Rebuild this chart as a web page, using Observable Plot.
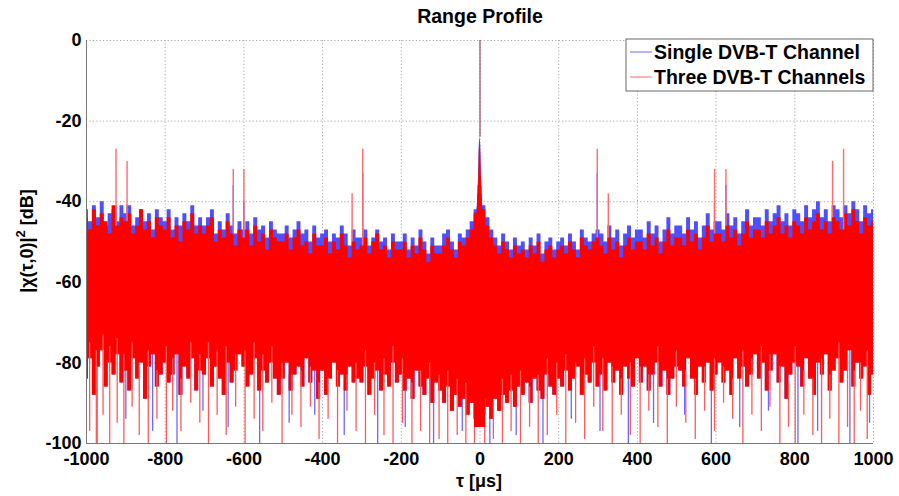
<!DOCTYPE html>
<html><head><meta charset="utf-8">
<script src="https://cdn.jsdelivr.net/npm/d3@7"></script>
<script src="https://cdn.jsdelivr.net/npm/@observablehq/plot@0.6"></script>
<style>
body{margin:0;background:#fff;}
svg text{font-family:"Liberation Sans",Arial,Helvetica,sans-serif;}
</style>
</head><body><div id="chart"></div>
<script>
// ---- data ----
const titleText = "Range Profile";
const seriesNames = ["Single DVB-T Channel", "Three DVB-T Channels"];
const xTicks = [-1000,-800,-600,-400,-200,0,200,400,600,800,1000];
const yTicks = [-100,-80,-60,-40,-20,0];
const tauStart = -1000, tauStep = 10;

// upper tips of the red (three channels) trace, every 10 us from -1000 to 1000
const redHi = [
 -44,-47,-42,-46,-43,-45,-48,-41,-46,-44,
 -45,-43,-48,-46,-42,-47,-45,-49,-44,-46,
 -47,-44,-49,-46,-50,-45,-47,-43,-48,-46,
 -48,-46,-44,-50,-47,-49,-45,-48,-51,-47,
 -49,-47,-51,-46,-50,-48,-52,-47,-49,-50,
 -50,-48,-52,-49,-47,-51,-50,-53,-48,-51,
 -51,-49,-53,-50,-52,-48,-51,-54,-50,-52,
 -51,-49,-53,-50,-48,-52,-51,-54,-50,-52,
 -52,-50,-54,-51,-53,-49,-52,-55,-51,-53,
 -53,-51,-49,-52,-54,-50,-51,-49,-47,-43,
 -38,
 -42,-46,-49,-51,-53,-50,-52,-54,-51,-53,
 -52,-54,-51,-53,-50,-55,-52,-51,-54,-52,
 -51,-53,-50,-52,-54,-49,-51,-52,-50,-49,
 -51,-53,-49,-52,-50,-54,-51,-49,-52,-50,
 -50,-52,-48,-51,-49,-53,-50,-47,-51,-49,
 -49,-51,-47,-50,-48,-52,-49,-46,-50,-48,
 -48,-50,-46,-49,-47,-51,-48,-45,-49,-47,
 -47,-49,-45,-48,-46,-44,-48,-46,-49,-45,
 -46,-48,-44,-47,-45,-43,-47,-45,-48,-44,
 -45,-47,-43,-46,-42,-45,-48,-44,-46,-45
];
// lower edge of the dense red trace
const redLo = [
 -84,-79,-88,-81,-77,-86,-80,-83,-78,-85,
 -82,-87,-79,-84,-80,-89,-81,-78,-86,-83,
 -80,-85,-83,-78,-88,-81,-84,-79,-87,-82,
 -83,-79,-86,-81,-84,-88,-80,-85,-82,-78,
 -81,-86,-83,-79,-87,-82,-85,-80,-84,-88,
 -84,-80,-87,-83,-81,-86,-79,-85,-82,-89,
 -82,-88,-84,-80,-86,-83,-87,-81,-85,-84,
 -85,-81,-88,-84,-82,-87,-83,-86,-80,-85,
 -83,-87,-84,-89,-82,-86,-88,-84,-90,-85,
 -87,-90,-86,-92,-88,-91,-89,-93,-90,-94,
 -96,
 -93,-91,-94,-89,-92,-88,-90,-87,-91,-86,
 -88,-85,-90,-84,-87,-89,-83,-86,-88,-84,
 -86,-82,-87,-84,-81,-88,-83,-85,-80,-86,
 -83,-87,-80,-85,-82,-88,-81,-84,-86,-79,
 -85,-81,-87,-83,-80,-86,-82,-88,-84,-81,
 -82,-86,-79,-84,-88,-81,-85,-80,-87,-83,
 -80,-85,-82,-88,-79,-84,-81,-86,-83,-78,
 -84,-80,-87,-82,-78,-85,-81,-89,-83,-80,
 -81,-86,-79,-84,-88,-80,-83,-78,-87,-82,
 -79,-85,-82,-77,-86,-80,-84,-81,-88,-83
];
// upper tips of the blue (single channel) trace
const blueHi = [
 -42,-45,-41,-44,-40,-46,-43,-42,-45,-41,
 -43,-41,-46,-44,-42,-45,-43,-47,-42,-44,
 -45,-42,-47,-44,-46,-43,-45,-41,-46,-44,
 -46,-44,-42,-48,-45,-47,-43,-46,-48,-45,
 -47,-45,-48,-44,-47,-46,-49,-45,-47,-48,
 -48,-46,-49,-47,-45,-48,-47,-50,-46,-49,
 -48,-47,-50,-48,-49,-46,-48,-51,-47,-49,
 -49,-47,-51,-49,-47,-50,-49,-52,-48,-50,
 -50,-48,-52,-49,-51,-47,-50,-53,-49,-51,
 -51,-48,-47,-50,-52,-48,-49,-47,-45,-42,
 -36,
 -41,-44,-47,-49,-51,-48,-50,-52,-49,-51,
 -50,-52,-49,-51,-48,-53,-50,-49,-52,-50,
 -49,-51,-48,-50,-52,-47,-49,-50,-48,-47,
 -48,-50,-46,-49,-47,-51,-48,-46,-49,-47,
 -47,-49,-45,-48,-46,-50,-47,-44,-48,-46,
 -46,-48,-44,-47,-45,-49,-46,-43,-47,-45,
 -45,-47,-43,-46,-44,-48,-45,-42,-46,-44,
 -44,-46,-42,-45,-43,-41,-45,-43,-46,-42,
 -43,-45,-41,-44,-42,-40,-44,-42,-45,-41,
 -42,-44,-41,-43,-40,-42,-45,-41,-43,-42
];
// deep downward dips [tau, dB]
const redDips = [
 [-992,-97],[-975,-100],[-958,-93],[-941,-100],[-922,-95],[-905,-100],[-884,-91],[-866,-98],[-843,-100],[-821,-94],
 [-797,-100],[-781,-92],[-760,-97],[-735,-90],[-712,-95],[-690,-100],[-668,-93],[-645,-98],[-621,-91],[-597,-100],
 [-574,-94],[-552,-97],[-529,-90],[-503,-100],[-478,-93],[-455,-96],[-431,-91],[-409,-99],[-386,-94],[-362,-100],
 [-338,-92],[-315,-97],[-291,-100],[-268,-93],[-244,-98],[-221,-100],[-197,-95],[-173,-100],[-151,-97],[-128,-100],
 [-104,-99],[-82,-100],[-58,-98],[-36,-100],[-14,-100],[12,-100],[34,-99],[57,-100],[79,-97],[103,-100],
 [126,-96],[148,-100],[171,-98],[195,-93],[218,-100],[243,-95],[266,-99],[289,-91],[312,-97],[336,-100],
 [359,-93],[382,-98],[407,-100],[429,-92],[452,-96],[476,-100],[499,-91],[523,-95],[547,-99],[571,-92],
 [596,-97],[619,-90],[642,-94],[668,-100],[691,-93],[715,-97],[737,-91],[762,-100],[784,-96],[801,-100],
 [823,-93],[846,-98],[868,-100],[889,-94],[912,-100],[934,-96],[951,-100],[967,-92],[984,-99]
];
const blueDips = [
 [-973,-100],[-900,-94],[-832,-97],[-770,-100],[-704,-92],[-640,-96],[-560,-100],[-485,-95],[-420,-93],[-345,-98],
 [-260,-100],[-190,-96],[-118,-100],[-45,-97],[25,-100],[92,-98],[160,-100],[232,-94],[305,-97],[377,-100],
 [441,-95],[520,-93],[588,-100],[660,-96],[733,-92],[808,-100],[858,-97],[940,-100],[990,-95]
];
// isolated upward spikes [tau, dB]
const redSpikes = [[-925,-27],[-897,-30],[-627,-32],[-600,-32],[-325,-38],[-298,-27],[298,-27],[326,-38],[596,-32],[625,-32],[896,-30],[924,-27]];
const blueSpikes = [[-925,-41],[-897,-41],[-627,-36],[-600,-40],[-298,-33],[298,-33],[596,-40],[625,-36],[896,-41],[924,-41]];
// central lobe
const peakTau  = [-14,-10,-7,-5,-3,-2,0,2,3,5,7,10,14];
const peakRed  = [-50,-46,-42,-39,-33,-28,-24,-28,-33,-39,-42,-46,-50];
const peakBlue = [-49,-45,-41,-38,-31,-26,-24,-26,-31,-38,-41,-45,-49];
const zeroLagDb = 0;

// ---- build tables ----
const tau = redHi.map((_, i) => tauStart + i * tauStep);
const rows = tau.map((t, i) => ({tau: t, redHi: redHi[i], redLo: redLo[i], blueHi: blueHi[i]}));
const loAt = t => redLo[Math.max(0, Math.min(redLo.length - 1, Math.round((t - tauStart) / tauStep)))];
const hiAt = t => redHi[Math.max(0, Math.min(redHi.length - 1, Math.round((t - tauStart) / tauStep)))];
const peak = peakTau.map((t, i) => ({tau: t, red: peakRed[i], blue: peakBlue[i], base: loAt(0)}));

const RED = "#ff0000", BLUE = "#4f4fff";
const gridStyle = {stroke: "#a8a8a8", strokeOpacity: 1, strokeDasharray: "1.2,2.2", strokeWidth: 1};

const chart = Plot.plot({
  width: 899, height: 496,
  marginLeft: 86, marginRight: 26, marginTop: 40, marginBottom: 53,
  style: {background: "#fff", color: "#000", fontSize: "18px", fontWeight: "bold", fontFamily: "Liberation Sans, Arial, sans-serif"},
  x: {domain: [-1000, 1000]},
  y: {domain: [-100, 0]},
  marks: [
    Plot.ruleX(xTicks, {...gridStyle}),
    Plot.ruleY(yTicks, {...gridStyle}),
    Plot.areaY(rows, {x: "tau", y1: "redLo", y2: "blueHi", curve: "step", fill: BLUE}),
    Plot.ruleX(blueDips, {x: d => d[0], y1: d => loAt(d[0]) + 4, y2: d => d[1], stroke: "#6a6aff", strokeWidth: 1.3, clip: true}),
    Plot.ruleX(blueSpikes, {x: d => d[0], y1: d => hiAt(d[0]), y2: d => d[1], stroke: BLUE, strokeWidth: 1.3}),
    Plot.areaY(peak, {x: "tau", y1: "base", y2: "blue", fill: BLUE}),
    Plot.areaY(rows, {x: "tau", y1: "redLo", y2: "redHi", curve: "step", fill: RED}),
    Plot.ruleX(redDips, {x: d => d[0], y1: d => loAt(d[0]) + 4, y2: d => d[1], stroke: "#ff5a5a", strokeWidth: 1.3, clip: true}),
    Plot.ruleX(redSpikes, {x: d => d[0], y1: d => hiAt(d[0]), y2: d => d[1], stroke: "#ff6a6a", strokeWidth: 1.4}),
    Plot.areaY(peak, {x: "tau", y1: "base", y2: "red", fill: RED}),
    Plot.ruleX([0], {y1: peakRed[peakTau.indexOf(0)], y2: zeroLagDb, stroke: "#8a2a55", strokeWidth: 1}),
    Plot.ruleX([-1000], {stroke: "#777", strokeWidth: 1}),
    Plot.ruleY([-100], {stroke: "#777", strokeWidth: 1}),
    Plot.axisX({ticks: xTicks, tickSize: 0, tickPadding: 9, tickFormat: d => String(d), label: null, fontSize: 18, fontWeight: "bold"}),
    Plot.axisY({ticks: yTicks, tickSize: 0, tickPadding: 5, tickFormat: d => String(d), label: null, fontSize: 18, fontWeight: "bold"})
  ]
});
document.getElementById("chart").appendChild(chart);

// ---- title, axis labels, legend ----
const svg = d3.select(chart);
const font = "Liberation Sans, Arial, sans-serif";
svg.append("text").attr("x", 480).attr("y", 23).attr("text-anchor", "middle")
  .attr("font-family", font).attr("font-size", 19.5).attr("font-weight", "bold").attr("fill", "#000").text(titleText);
svg.append("text").attr("x", 479).attr("y", 487).attr("text-anchor", "middle")
  .attr("font-family", font).attr("font-size", 18).attr("font-weight", "bold").attr("fill", "#000").text("τ [μs]");
const yl = svg.append("text").attr("transform", "translate(33,241) rotate(-90)").attr("text-anchor", "middle")
  .attr("font-family", font).attr("font-size", 18).attr("font-weight", "bold").attr("fill", "#000");
yl.append("tspan").text("|χ(τ,0)|");
yl.append("tspan").attr("font-size", 13).attr("dy", -8).text("2");
yl.append("tspan").attr("dy", 8).text(" [dB]");

const lg = svg.append("g").attr("transform", "translate(626,39)");
lg.append("rect").attr("width", 247).attr("height", 52).attr("fill", "#fff").attr("stroke", "#444").attr("stroke-width", 0.8);
const legendColors = ["#8080ff", "#ff8080"];
seriesNames.forEach((name, i) => {
  const y = 13 + i * 25;
  lg.append("line").attr("x1", 4).attr("x2", 26).attr("y1", y).attr("y2", y).attr("stroke", legendColors[i]).attr("stroke-width", 1.2);
  lg.append("text").attr("x", 28).attr("y", y + 6.5).attr("text-anchor", "start").attr("font-family", font).attr("font-size", 19.5)
    .attr("font-weight", "bold").attr("fill", "#000").text(name);
});
</script>
</body></html>
